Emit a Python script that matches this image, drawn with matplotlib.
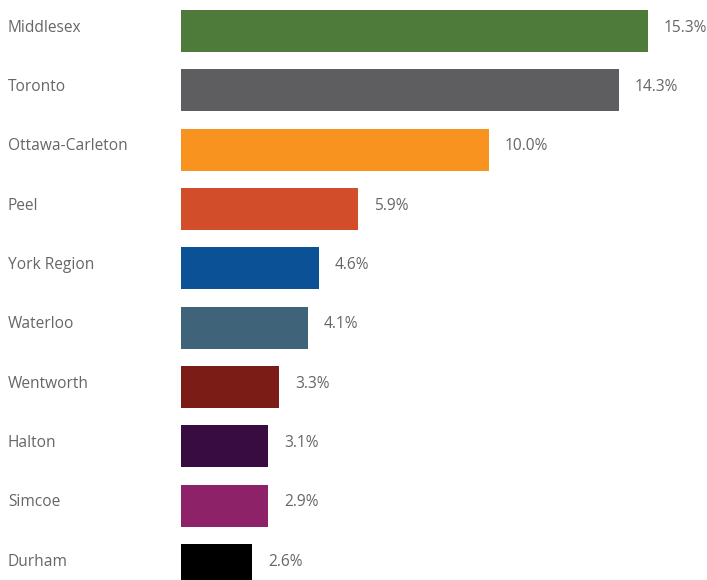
import matplotlib
matplotlib.use("Agg")
import matplotlib.pyplot as plt

regions = ["Middlesex", "Toronto", "Ottawa-Carleton", "Peel", "York Region",
           "Waterloo", "Wentworth", "Halton", "Simcoe", "Durham"]
bar_values = [15.31, 14.36, 10.10, 5.80, 4.52, 4.16, 3.21, 2.85, 2.85, 2.33]
value_labels = ["15.3%", "14.3%", "10.0%", "5.9%", "4.6%", "4.1%", "3.3%", "3.1%", "2.9%", "2.6%"]
colors = ["#4e7b3a", "#5e5e60", "#f7931e", "#d24e2a", "#0b5195",
          "#3f6479", "#7b1c16", "#380c40", "#8e2268", "#000000"]

W, H = 707, 580
fig = plt.figure(figsize=(W / 100, H / 100), dpi=100)
ax = fig.add_axes([0, 0, 1, 1])

px_per_unit_x = 30.5
x0 = 181
ax.set_xlim(-x0 / px_per_unit_x, (W - x0) / px_per_unit_x)
row = 59.33
c0 = 31
ax.set_ylim((H - c0) / row, -c0 / row)

ys = list(range(len(regions)))
ax.barh(ys, bar_values, height=42 / row, color=colors, linewidth=0)

font = "Open Sans"
tc = "#666666"
for y, name, v, lab in zip(ys, regions, bar_values, value_labels):
    ax.annotate(name, xy=(-x0 / px_per_unit_x, y), xytext=(8 * 0.72, -0.7 * 0.72),
                textcoords="offset points", ha="left", va="baseline",
                fontsize=11.2, color=tc, family=font)
    ax.annotate(lab, xy=(v, y), xytext=(16 * 0.72, -0.7 * 0.72),
                textcoords="offset points", ha="left", va="baseline",
                fontsize=11.2, color=tc, family=font)

ax.axis("off")
fig.savefig("out.png", dpi=100)
